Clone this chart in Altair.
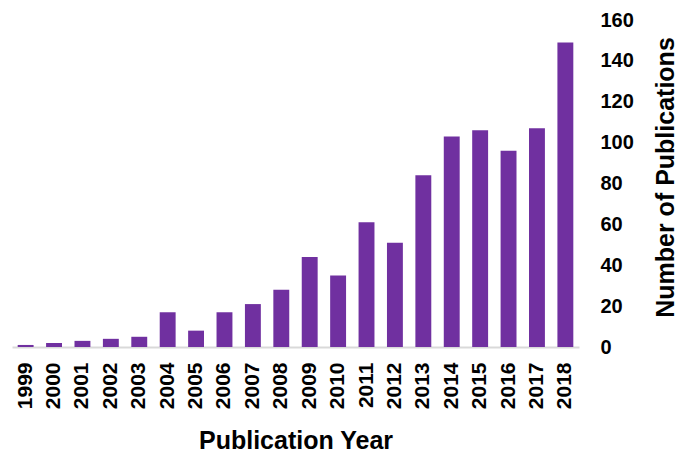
import altair as alt
import pandas as pd

years = [str(y) for y in range(1999, 2019)]
counts = [1, 2, 3, 4, 5, 17, 8, 17, 21, 28, 44, 35, 61, 51, 84, 103, 106, 96, 107, 149]
y_ticks = [0, 20, 40, 60, 80, 100, 120, 140, 160]

df = pd.DataFrame({"year": years, "count": counts})

FONT = "Liberation Sans"

chart = alt.Chart(df).mark_bar(color="#7030A0").encode(
    x=alt.X(
        "year:N",
        sort=years,
        scale=alt.Scale(paddingInner=0.44, paddingOuter=0.2),
        axis=alt.Axis(
            title="Publication Year",
            labelAngle=270,
            labelAlign="right",
            labelBaseline="middle",
            labelFont=FONT,
            labelFontSize=21,
            labelFontWeight="bold",
            labelColor="black",
            labelPadding=15,
            ticks=False,
            domainColor="#d9d9d9",
            domainWidth=2,
            titleFont=FONT,
            titleFontSize=25,
            titleFontWeight="bold",
            titleColor="black",
            titlePadding=20,
        ),
    ),
    y=alt.Y(
        "count:Q",
        scale=alt.Scale(domain=[0, 160], nice=False),
        axis=alt.Axis(
            title="Number of Publications",
            orient="right",
            values=y_ticks,
            grid=False,
            domain=False,
            ticks=False,
            labelFont=FONT,
            labelFontSize=20,
            labelFontWeight="bold",
            labelColor="black",
            labelPadding=21,
            titleFont=FONT,
            titleFontSize=25,
            titleFontWeight="bold",
            titleColor="black",
            titleAngle=270,
            titleAlign="center",
            titleBaseline="middle",
            titleX=86,
            titleY=157,
        ),
    ),
).properties(
    width=567,
    height=327,
    autosize=alt.AutoSizeParams(type="none"),
    padding={"left": 4, "top": 12, "right": 98, "bottom": 108},
).configure_view(stroke=None)

chart.save("out.html", embed_options={"renderer": "svg", "actions": False})
